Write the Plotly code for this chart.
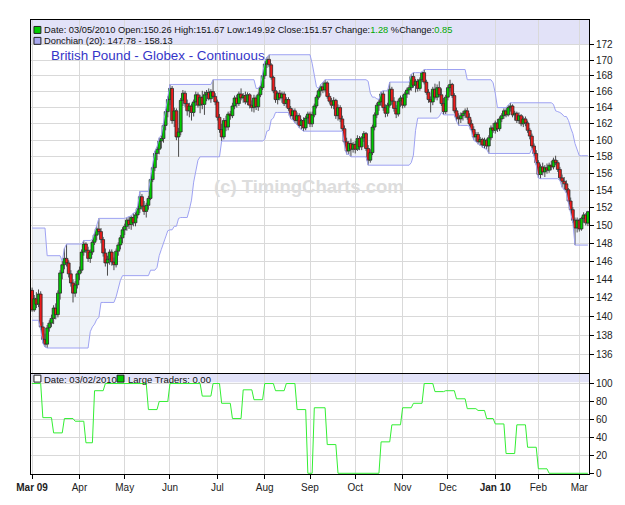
import numpy as np
import pandas as pd
import plotly.graph_objects as go

# ------------------------------------------------------------------ data
holidays = ["2009-04-10", "2009-07-03", "2009-09-07", "2009-12-25", "2010-01-01", "2010-02-15"]

opens = [
    142.8, 140.7, 141.9, 141.3, 142.4, 138.9, 137.6, 137.1, 138.8, 139.3, 139.8, 140.9, 140.2, 142.5, 144.7, 145.6, 146.3, 145.8, 144.6, 143.6, 142.5, 143.4,
    144.6, 145.0, 147.0, 147.9, 147.2, 146.3, 147.0, 148.1, 148.9, 149.6, 149.3, 148.4, 146.9, 145.8, 146.2, 147.0, 145.9, 145.6, 147.1, 147.8, 148.6,
    149.5, 149.9, 150.6, 150.1, 150.9, 150.3, 151.2, 151.9, 153.3, 152.2, 151.6, 152.3, 153.1, 155.3, 156.7, 158.4, 158.9, 159.9, 160.2, 161.8, 163.5,
    165.0, 166.4, 162.4, 163.6, 160.4, 161.0, 164.9, 165.8, 164.5, 163.6, 164.2, 163.4, 164.7, 165.6, 164.3, 165.3, 164.4, 165.6, 165.9, 165.1, 166.0, 165.4,
    164.7, 162.8, 161.3, 160.4, 162.4, 161.6, 163.2, 163.0, 164.2, 165.2, 164.5, 165.7, 165.2, 165.5, 164.7, 165.6, 164.3, 164.0, 165.2, 164.1, 165.6, 166.5,
    168.0, 169.5, 170.1, 169.4, 167.8, 166.1, 165.0, 165.8, 165.2, 165.7, 164.5, 165.0, 163.9, 163.0, 163.6, 162.4, 163.0, 161.8, 162.4, 161.5, 162.7,
    163.2, 162.0, 163.1, 164.2, 165.3, 166.1, 166.6, 166.2, 167.1, 165.4, 164.8, 164.3, 164.9, 163.0, 164.0, 162.6, 161.4, 159.8, 158.7, 159.6, 158.9,
    159.5, 158.9, 160.2, 159.2, 160.3, 160.8, 159.0, 157.6, 158.5, 161.6, 163.1, 164.3, 164.7, 165.7, 164.0, 163.3, 164.3, 166.3, 164.8, 163.9, 163.2, 164.8,
    165.2, 164.3, 165.7, 166.2, 166.5, 167.9, 166.8, 167.3, 166.4, 167.5, 168.4, 167.2, 165.9, 165.0, 164.7, 166.3, 165.3, 166.5, 165.6, 164.5, 163.5,
    165.3, 166.5, 166.9, 165.5, 163.6, 162.8, 162.6, 163.0, 163.3, 163.6, 162.8, 162.0, 161.3, 160.4, 160.7, 159.8, 160.1, 159.4, 160.0, 159.3, 160.3, 161.5,
    161.2, 162.1, 161.4, 162.6, 163.0, 163.6, 163.1, 164.0, 164.2, 163.1, 163.3, 162.4, 163.0, 162.0, 162.6, 162.1, 161.2, 160.5, 159.3, 158.4,
    157.3, 155.9, 156.8, 156.2, 156.7, 156.4, 157.0, 156.8, 157.6, 157.3, 156.5, 155.5, 155.1, 154.8, 154.1, 152.8, 151.8, 150.6, 149.7,
    150.6, 149.6, 150.8, 151.2, 150.26,
]
highs = [
    143.1, 142.3, 142.6, 142.9, 142.7, 139.4, 138.2, 139.1, 139.6, 140.2, 141.2, 141.4, 142.8, 145.0, 146.0, 147.4, 147.9, 146.1, 145.0, 144.0, 143.8, 144.9,
    145.4, 147.3, 148.3, 148.1, 147.6, 147.3, 148.4, 149.2, 149.9, 150.8, 149.7, 148.7, 147.4, 146.6, 147.3, 147.3, 146.4, 147.4, 148.1, 148.9, 149.8,
    150.2, 150.9, 151.0, 151.1, 151.4, 151.5, 152.2, 153.9, 153.6, 152.8, 152.6, 153.4, 155.6, 157.0, 158.7, 159.2, 160.3, 160.6, 162.1, 163.8, 165.4,
    166.9, 166.7, 164.0, 163.9, 161.5, 165.2, 166.2, 166.1, 165.0, 164.6, 164.5, 165.0, 166.0, 165.9, 165.6, 166.1, 166.0, 166.2, 166.4, 166.3, 167.5, 165.8,
    165.0, 163.2, 162.0, 162.7, 163.0, 163.5, 163.6, 164.6, 165.5, 165.6, 166.0, 166.4, 165.8, 166.0, 165.9, 165.8, 164.9, 165.6, 165.5, 165.9, 166.8, 168.3,
    169.8, 170.4, 170.7, 169.6, 168.0, 166.6, 166.0, 166.2, 166.0, 166.0, 165.3, 165.3, 164.2, 163.9, 163.9, 163.4, 163.3, 162.6, 162.8, 163.0, 163.5,
    163.5, 163.5, 164.5, 165.6, 166.4, 166.9, 167.2, 167.5, 167.3, 165.8, 165.2, 165.3, 165.1, 164.4, 164.3, 163.0, 161.8, 160.3, 159.9, 160.2, 159.8,
    159.9, 160.6, 160.5, 160.5, 161.1, 161.0, 159.4, 158.9, 161.9, 163.4, 164.6, 165.0, 166.0, 166.1, 164.4, 164.6, 167.2, 166.6, 165.3, 164.3, 165.1, 165.5,
    165.6, 166.0, 166.5, 166.8, 168.2, 168.4, 167.6, 167.6, 167.8, 168.5, 168.8, 167.5, 166.3, 165.4, 166.6, 167.0, 166.9, 167.3, 166.4, 165.2, 165.6,
    166.8, 167.5, 167.1, 165.8, 164.0, 163.3, 163.4, 163.6, 163.9, 164.0, 163.3, 162.5, 161.7, 161.0, 161.0, 160.4, 160.3, 160.3, 160.2, 160.6, 161.8, 162.1,
    162.4, 162.6, 162.9, 163.3, 163.9, 163.9, 164.3, 164.6, 164.4, 163.6, 163.5, 163.4, 163.2, 162.9, 162.9, 162.4, 161.5, 160.8, 159.6, 158.8,
    157.6, 157.1, 157.3, 157.0, 157.2, 157.3, 157.5, 157.9, 158.13, 157.6, 156.8, 155.9, 155.6, 155.2, 154.3, 153.2, 152.1, 150.9, 150.9,
    150.8, 151.0, 151.5, 151.4, 151.67,
]
lows = [
    140.5, 140.5, 140.9, 141.0, 138.6, 137.2, 136.8, 136.7, 138.4, 138.9, 139.2, 139.7, 139.9, 141.8, 144.0, 145.1, 145.4, 144.2, 143.2, 141.5, 142.1, 143.0,
    143.9, 144.7, 146.6, 146.9, 145.9, 145.8, 146.7, 147.8, 148.3, 149.0, 148.0, 146.5, 145.4, 144.4, 145.6, 145.5, 145.0, 145.3, 146.6, 147.3, 148.0,
    148.9, 149.4, 149.6, 149.5, 149.9, 149.9, 150.8, 151.4, 151.8, 151.2, 150.9, 151.8, 152.9, 155.0, 156.3, 157.6, 158.3, 159.0, 159.7, 161.2, 162.8,
    164.3, 162.0, 161.6, 160.0, 158.0, 160.6, 164.2, 164.1, 163.0, 162.8, 162.4, 162.9, 164.2, 164.0, 163.3, 163.8, 163.1, 164.8, 164.9, 164.6, 165.2, 164.3,
    162.4, 160.9, 159.9, 160.1, 161.1, 161.2, 162.5, 162.7, 163.8, 164.0, 164.2, 164.9, 164.6, 164.4, 164.3, 163.9, 163.5, 163.4, 163.7, 163.6, 165.3, 166.2,
    167.6, 169.0, 169.1, 167.5, 165.8, 164.6, 164.4, 164.9, 164.6, 164.2, 164.0, 163.6, 162.6, 162.5, 162.1, 161.9, 161.5, 161.3, 161.1, 161.2, 162.0,
    161.6, 161.6, 162.8, 163.9, 165.0, 165.5, 165.8, 165.9, 165.1, 164.5, 163.9, 163.8, 162.6, 162.4, 162.2, 161.1, 159.4, 158.3, 158.3, 158.0, 158.5,
    158.4, 158.7, 158.8, 158.8, 159.8, 158.7, 157.0, 157.3, 158.2, 161.2, 162.7, 163.6, 164.2, 163.6, 162.8, 162.9, 164.0, 164.4, 163.5, 162.7, 162.9, 164.1,
    163.9, 164.0, 165.2, 165.6, 166.1, 166.5, 165.9, 166.0, 166.1, 167.2, 166.9, 165.6, 164.6, 163.4, 164.3, 165.0, 164.9, 165.3, 164.2, 163.1, 163.2,
    164.9, 166.0, 165.2, 163.3, 162.3, 161.8, 162.1, 162.4, 162.7, 162.5, 161.7, 161.0, 160.0, 159.8, 159.5, 159.3, 159.1, 159.0, 158.9, 158.4, 160.0, 160.9,
    160.8, 161.0, 161.1, 162.2, 162.6, 162.8, 162.9, 163.5, 162.8, 162.4, 162.1, 162.0, 161.7, 161.6, 161.7, 160.9, 160.1, 159.0, 158.1, 157.0,
    155.5, 155.4, 155.8, 155.6, 156.0, 156.1, 156.4, 156.5, 157.0, 156.2, 155.2, 154.4, 154.1, 153.7, 152.5, 151.5, 150.3, 147.78, 149.2,
    149.3, 149.4, 150.3, 150.0, 149.92,
]
closes = [
    140.7, 141.9, 141.3, 142.4, 138.9, 137.6, 137.1, 138.8, 139.3, 139.8, 140.9, 140.2, 142.5, 144.7, 145.6, 146.3, 145.8, 144.6, 143.6, 142.5, 143.4, 144.6,
    145.0, 147.0, 147.9, 147.2, 146.3, 147.0, 148.1, 148.9, 149.6, 149.3, 148.4, 146.9, 145.8, 146.2, 147.0, 145.9, 145.6, 147.1, 147.8, 148.6, 149.5,
    149.9, 150.6, 150.1, 150.9, 150.3, 151.2, 151.9, 153.3, 152.2, 151.6, 152.3, 153.1, 155.3, 156.7, 158.4, 158.9, 159.9, 160.2, 161.8, 163.5, 165.0,
    166.4, 162.4, 163.6, 160.4, 161.0, 164.9, 165.8, 164.5, 163.6, 164.2, 163.4, 164.7, 165.6, 164.3, 165.3, 164.4, 165.6, 165.9, 165.1, 166.0, 165.4, 164.7,
    162.8, 161.3, 160.4, 162.4, 161.6, 163.2, 163.0, 164.2, 165.2, 164.5, 165.7, 165.2, 165.5, 164.7, 165.6, 164.3, 164.0, 165.2, 164.1, 165.6, 166.5, 168.0,
    169.5, 170.1, 169.4, 167.8, 166.1, 165.0, 165.8, 165.2, 165.7, 164.5, 165.0, 163.9, 163.0, 163.6, 162.4, 163.0, 161.8, 162.4, 161.5, 162.7, 163.2,
    162.0, 163.1, 164.2, 165.3, 166.1, 166.6, 166.2, 167.1, 165.4, 164.8, 164.3, 164.9, 163.0, 164.0, 162.6, 161.4, 159.8, 158.7, 159.6, 158.9, 159.5,
    158.9, 160.2, 159.2, 160.3, 160.8, 159.0, 157.6, 158.5, 161.6, 163.1, 164.3, 164.7, 165.7, 164.0, 163.3, 164.3, 166.3, 164.8, 163.9, 163.2, 164.8, 165.2,
    164.3, 165.7, 166.2, 166.5, 167.9, 166.8, 167.3, 166.4, 167.5, 168.4, 167.2, 165.9, 165.0, 164.7, 166.3, 165.3, 166.5, 165.6, 164.5, 163.5, 165.3,
    166.5, 166.9, 165.5, 163.6, 162.8, 162.6, 163.0, 163.3, 163.6, 162.8, 162.0, 161.3, 160.4, 160.7, 159.8, 160.1, 159.4, 160.0, 159.3, 160.3, 161.5, 161.2,
    162.1, 161.4, 162.6, 163.0, 163.6, 163.1, 164.0, 164.2, 163.1, 163.3, 162.4, 163.0, 162.0, 162.6, 162.1, 161.2, 160.5, 159.3, 158.4, 157.3,
    155.9, 156.8, 156.2, 156.7, 156.4, 157.0, 156.8, 157.6, 157.3, 156.5, 155.5, 155.1, 154.8, 154.1, 152.8, 151.8, 150.6, 149.7, 150.6,
    149.6, 150.8, 151.2, 150.29, 151.57,
]

# the 19 sessions before the chart (Feb 2009), used only to seed the Donchian channel
feb_highs = [146.0, 146.8, 147.5, 148.3, 148.9, 149.3, 149.7, 146.2, 145.4, 144.6,
             143.8, 144.2, 145.1, 146.6, 145.8, 144.3, 143.6, 142.9, 143.4]
feb_lows = [143.5, 144.6, 145.3, 146.0, 146.8, 147.2, 147.0, 144.8, 143.2, 142.0,
            141.2, 141.6, 142.8, 144.2, 142.6, 141.1, 140.2, 139.6, 140.8]

# Large Traders (weekly report values, in effect from each date)
lt_dates = ["2009-03-02", "2009-03-09", "2009-03-16", "2009-03-23", "2009-03-30", "2009-04-06",
            "2009-04-13", "2009-04-20", "2009-05-18", "2009-05-25", "2009-06-01", "2009-06-22",
            "2009-06-29", "2009-07-06", "2009-07-13", "2009-07-20", "2009-07-27", "2009-08-03",
            "2009-08-10", "2009-08-17", "2009-08-24", "2009-08-31", "2009-09-03", "2009-09-14",
            "2009-09-21", "2009-10-19", "2009-10-26", "2009-11-02", "2009-11-09", "2009-11-16",
            "2009-11-23", "2009-11-30", "2009-12-07", "2009-12-14", "2009-12-21", "2009-12-28",
            "2010-01-04", "2010-01-11", "2010-01-18", "2010-01-25", "2010-02-01", "2010-02-08"]
lt_values = [100, 62, 45, 61, 58, 34, 92, 100, 71, 80, 100, 86, 100, 78, 61, 93, 82, 100,
             92, 100, 71, 0, 73, 32, 0, 35, 54, 73, 78, 100, 91, 92, 83, 72, 70, 61, 55, 22,
             54, 29, 5, 0]
cot_date = "03/02/2010"

month_labels = ["Mar 09", "Apr", "May", "Jun", "Jul", "Aug", "Sep", "Oct", "Nov", "Dec",
                "Jan 10", "Feb", "Mar"]
price_ticks = [136, 138, 140, 142, 144, 146, 148, 150, 152, 154, 156, 158, 160, 162, 164,
               166, 168, 170, 172]
trader_ticks = [0, 20, 40, 60, 80, 100]

title_text = "British Pound - Globex - Continuous"
watermark = "(c) TimingCharts.com"

# ------------------------------------------------------------------ derived
dates = pd.bdate_range("2009-03-02", "2010-03-05")
dates = dates[~dates.isin(pd.to_datetime(holidays))]
N = len(dates)
x = np.arange(N)

o = np.array(opens)
h = np.array(highs)
l = np.array(lows)
c = np.array(closes)
body_lo = np.minimum(o, c)
body_hi = np.maximum(o, c)
up = c >= o

all_h = pd.Series(feb_highs + highs)
all_l = pd.Series(feb_lows + lows)
dc_up = all_h.rolling(20).max().to_numpy()[len(feb_highs):]
dc_lo = all_l.rolling(20).min().to_numpy()[len(feb_lows):]

lt = pd.Series(lt_values, index=pd.to_datetime(lt_dates)).reindex(dates, method="ffill").to_numpy()

per = dates.to_period("M")
tickvals = [i for i in range(N) if i == 0 or per[i] != per[i - 1]]
ticktext = ["<b>%s</b>" % m if " " in m else m for m in month_labels]

# ------------------------------------------------------------------ geometry
W, H = 625, 505
ML, MR, MT, MB = 31, 30, 20, 28
PW, PH = W - ML - MR, H - MT - MB


def px(xp):
    return (xp - ML) / PW


def py(yp):
    return (H - MB - yp) / PH


main_dom = [py(375), 1.0]
low_dom = [0.0, py(376)]
ylo, yhi = np.log10(134.17), np.log10(175.25)
y2_range = [-0.8, 111]


def main_frac(p):
    return main_dom[0] + (main_dom[1] - main_dom[0]) * (np.log10(p) - ylo) / (yhi - ylo)


FONT = "Liberation Sans, Arial, sans-serif"
GRID = "#d9d9d9"
GREEN_TXT = "#00a800"
DC_LINE = "#9ea2f2"
UP_COL = "#00cc00"
DN_COL = "#ee1c1c"
EDGE = "#262626"
WICK = "#4a4a4a"

fig = go.Figure()


def wick_xy(top, bot):
    xs, ys = [], []
    for xi, t, b in zip(x, top, bot):
        xs += [xi, xi, None]
        ys += [t, b, None]
    return xs, ys


# wicks (above and below each body)
for top, bot in ((h, body_hi), (body_lo, l)):
    wx, wy = wick_xy(top, bot)
    fig.add_trace(go.Scatter(x=wx, y=wy, mode="lines", line=dict(color=WICK, width=1),
                             hoverinfo="skip", showlegend=False))

# bodies
fig.add_trace(go.Bar(x=x, y=body_hi - body_lo, base=body_lo, width=1.3,
                     marker=dict(color=np.where(up, UP_COL, DN_COL),
                                 line=dict(color=EDGE, width=0.8)),
                     hoverinfo="skip", showlegend=False))

fig.add_trace(go.Scatter(x=x, y=dc_lo, mode="lines", line=dict(color=DC_LINE, width=1),
                         hoverinfo="skip", showlegend=False))
fig.add_trace(go.Scatter(x=x, y=dc_up, mode="lines", line=dict(color=DC_LINE, width=1),
                         hoverinfo="skip", showlegend=False))
fig.add_trace(go.Scatter(x=x, y=lt, xaxis="x2", yaxis="y2", mode="lines",
                         line=dict(color="#33ee33", width=1), hoverinfo="skip",
                         showlegend=False, cliponaxis=False))

# Donchian channel fill, drawn under the grid and the candles
pts = [(xi, main_frac(v)) for xi, v in zip(x, dc_up)] + \
      [(xi, main_frac(v)) for xi, v in zip(x[::-1], dc_lo[::-1])]
path = "M " + " L ".join("%.3f,%.5f" % p for p in pts) + " Z"

shapes = [
    dict(type="path", xref="x", yref="paper", path=path, fillcolor="#eff3f9",
         line=dict(width=0), layer="below"),
    dict(type="rect", xref="paper", yref="paper", x0=0, x1=1, y0=main_frac(172.0), y1=1,
         fillcolor="#e2e2f8", line=dict(width=0), layer="below"),
    dict(type="rect", xref="paper", yref="y2", x0=0, x1=1, y0=101.5, y1=y2_range[1],
         fillcolor="#e2e2f8", line=dict(width=0), layer="below"),
]


def square(x0, yc, fill):
    return dict(type="rect", xref="paper", yref="paper", x0=px(x0), x1=px(x0 + 7),
                y0=py(yc + 3.5), y1=py(yc - 3.5), fillcolor=fill,
                line=dict(color="#222", width=1), layer="above")


shapes += [square(34, 30, UP_COL), square(34, 41, "#a8a8ee"),
           square(34, 381, "#ffffff"), square(118, 381, UP_COL)]

chg = closes[-1] - closes[-2]
pct = chg / closes[-2] * 100
line1 = ("Date: %s Open:%.2f High:%.2f Low:%.2f Close:%.2f Change:<span style='color:%s'>%.2f</span>"
         " %%Change:<span style='color:%s'>%.2f</span>"
         % (dates[-1].strftime("%m/%d/%Y"), opens[-1], highs[-1], lows[-1], closes[-1],
            GREEN_TXT, chg, GREEN_TXT, pct))
line2 = "Donchian (20): %.2f - %.2f" % (dc_lo[-1], dc_up[-1])


def ann(text, xp, yp, size=9, color="#111", anchor="left", bold=False):
    return dict(text=("<b>%s</b>" % text) if bold else text, xref="paper", yref="paper",
                x=px(xp), y=py(yp), xanchor=anchor, yanchor="middle", showarrow=False,
                font=dict(family=FONT, size=size, color=color))


annotations = [
    ann(line1, 42, 30.5, size=9.3),
    ann(line2, 42, 41.5, size=9.3),
    ann(title_text, 49, 56, size=13.4, color="#3535c8"),
    ann(watermark, 312, 188, size=18.5, color="#dddddd", anchor="center", bold=True),
    ann("Date: " + cot_date, 42, 381.5, size=9.5),
    ann("Large Traders: %.2f" % lt[-1], 127, 381.5, size=9.5),
]

axis_common = dict(showline=True, mirror=True, linecolor="black", linewidth=1,
                   gridcolor=GRID, gridwidth=1, zeroline=False,
                   tickfont=dict(family=FONT, size=10, color="#222"))

fig.update_layout(
    width=W, height=H, margin=dict(l=ML, r=MR, t=MT, b=MB, pad=0),
    paper_bgcolor="white", plot_bgcolor="white", showlegend=False,
    font=dict(family=FONT), barmode="overlay",
    shapes=shapes, annotations=annotations,
    xaxis=dict(domain=[0, 1], anchor="y", range=[-0.5, N - 0.5], tickmode="array",
               tickvals=tickvals, showticklabels=False, ticks="", showgrid=True,
               **axis_common),
    xaxis2=dict(domain=[0, 1], anchor="y2", matches="x", range=[-0.5, N - 0.5],
                tickmode="array", tickvals=tickvals, ticktext=ticktext, ticks="outside",
                ticklen=4, tickcolor="black", showgrid=True, **axis_common),
    yaxis=dict(domain=main_dom, anchor="x", type="log", range=[ylo, yhi], side="right",
               tickmode="array", tickvals=price_ticks, ticktext=[str(v) for v in price_ticks],
               ticks="outside", ticklen=4, tickcolor="black", showgrid=True, **axis_common),
    yaxis2=dict(domain=low_dom, anchor="x2", range=y2_range, side="right", tickmode="array",
                tickvals=trader_ticks, ticks="outside", ticklen=4, tickcolor="black",
                showgrid=True, **axis_common),
)

fig.write_html("out.html")
